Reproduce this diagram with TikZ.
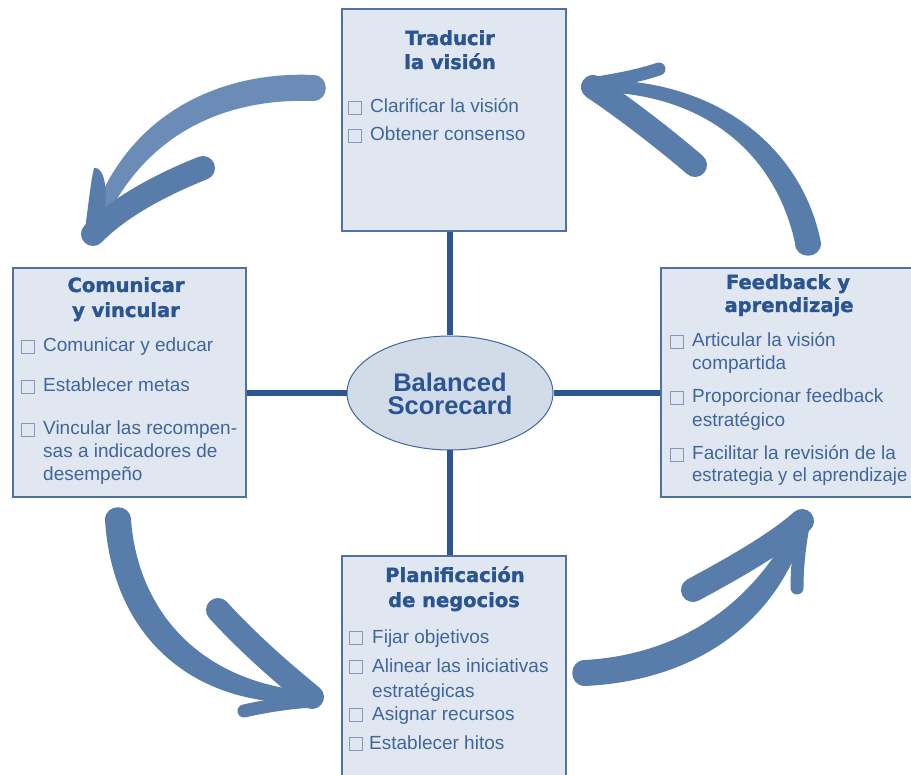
\documentclass[tikz,border=0pt]{standalone}
\usepackage{fontspec}
\setmainfont{Liberation Sans}
\newfontfamily\headfont[BoldFeatures={FakeBold=1.6}]{DejaVu Sans}
\newfontfamily\ovalfont{Liberation Sans}
\usetikzlibrary{shapes.geometric}

\definecolor{boxfill}{HTML}{E1E7F0}
\definecolor{boxline}{HTML}{4F72A2}
\definecolor{linkcol}{HTML}{2C5592}
\definecolor{ovalfill}{HTML}{D2DCE9}
\definecolor{ovalline}{HTML}{3F679C}
\definecolor{headcol}{HTML}{2A5592}
\definecolor{itemcol}{HTML}{3F669C}
\definecolor{chkcol}{HTML}{8199BB}
\definecolor{arrowcol}{HTML}{597DAB}
\definecolor{arrowlight}{HTML}{6B8CB6}

\tikzset{
  panel/.style={draw=boxline, fill=boxfill, line width=1.3pt, inner sep=0},
  link/.style={draw=linkcol, line width=6pt},
  oval/.style={ellipse, draw=ovalline, fill=ovalfill, line width=1pt, inner sep=0},
  heading/.style={font=\headfont\bfseries\fontsize{19.5}{22}\selectfont, text=headcol, anchor=base, inner sep=0},
  item/.style={font=\fontsize{19}{21}\selectfont, text=itemcol, anchor=base west, inner sep=0},
  chk/.style={draw=chkcol, line width=0.9pt, minimum size=13pt, inner sep=0, fill=none},
  ovaltext/.style={font=\ovalfont\bfseries\fontsize{25.5}{27}\selectfont, text=headcol, anchor=base, inner sep=0},
  body/.style={fill=arrowcol},
  lightbody/.style={fill=arrowlight},
  barb/.style={draw=arrowcol, line cap=round, line join=round},
}

\begin{document}
\begin{tikzpicture}[x=1pt, y=-1pt]
\useasboundingbox (0,0) rectangle (911,775);
\fill[white] (0,0) rectangle (911,775);
\clip (0,0) rectangle (911,775);

% the four panels and the central oval
\node[panel, minimum width=224pt, minimum height=222pt] (tv) at (454,120) {};
\node[panel, minimum width=233pt, minimum height=229pt] (cv) at (129.5,382.5) {};
\node[panel, minimum width=254pt, minimum height=229pt] (fa) at (788,382.5) {};
\node[panel, minimum width=224pt, minimum height=234pt] (pn) at (454,673) {};
\node[oval, minimum width=206pt, minimum height=114pt] (bsc) at (450,393) {};

% spokes from the oval to the panels
\draw[link] (bsc.north) -- (bsc.north |- tv.south);
\draw[link] (bsc.south) -- (bsc.south |- pn.north);
\draw[link] (bsc.west) -- (bsc.west -| cv.east);
\draw[link] (bsc.east) -- (bsc.east -| fa.west);

% oval label
\node[ovaltext] (bsc1) at (450,392) {Balanced};
\node[ovaltext] (bsc2) at (450,415) {Scorecard};

% Traducir la vision
\node[heading] (tvh1) at (450,45) {Traducir};
\node[heading] (tvh2) at (450,69) {la visión};
\node[chk] (tvc1) at (355,107.5) {};
\node[item] (tvi1) at (370,113) {Clarificar la visión};
\node[chk] (tvc2) at (355,135.5) {};
\node[item] (tvi2) at (370,141) {Obtener consenso};

% Comunicar y vincular
\node[heading] (cvh1) at (126,292) {Comunicar};
\node[heading] (cvh2) at (126,317) {y vincular};
\node[chk] (cvc1) at (28,346.5) {};
\node[item] (cvi1) at (43,352) {Comunicar y educar};
\node[chk] (cvc2) at (28,386.5) {};
\node[item] (cvi2) at (43,392) {Establecer metas};
\node[chk] (cvc3) at (28,429.5) {};
\node[item] (cvi3) at (43,435) {Vincular las recompen-};
\node[item] (cvi4) at (43,458) {sas a indicadores de};
\node[item] (cvi5) at (43,481) {desempeño};

% Feedback y aprendizaje
\node[heading] (fah1) at (788,289) {Feedback y};
\node[heading] (fah2) at (789,312) {aprendizaje};
\node[chk] (fac1) at (677,341.5) {};
\node[item] (fai1) at (692,347) {Articular la visión};
\node[item] (fai2) at (692,370) {compartida};
\node[chk] (fac2) at (677,397.5) {};
\node[item] (fai3) at (692,403) {Proporcionar feedback};
\node[item] (fai4) at (692,427) {estratégico};
\node[chk] (fac3) at (677,454.5) {};
\node[item] (fai5) at (692,460) {Facilitar la revisión de la};
\node[item, xscale=0.97] (fai6) at (692,482) {estrategia y el aprendizaje};

% Planificacion de negocios
\node[heading] (pnh1) at (455,582) {Planificación};
\node[heading] (pnh2) at (454,607) {de negocios};
\node[chk] (pnc1) at (356,637.5) {};
\node[item] (pni1) at (372,643) {Fijar objetivos};
\node[chk] (pnc2) at (356,666.5) {};
\node[item] (pni2) at (372,672) {Alinear las iniciativas};
\node[item] (pni3) at (372,697) {estratégicas};
\node[chk] (pnc3) at (356,714.5) {};
\node[item] (pni4) at (372,720) {Asignar recursos};
\node[chk] (pnc4) at (355.5,743.5) {};
\node[item] (pni5) at (369,749) {Establecer hitos};

% cycle arrows: tapered brush body plus two barbs
% top left
\fill[lightbody] (313,75) .. controls (225,71) and (125,110) .. (89,226)
  -- (101,230) .. controls (145,128) and (232,98) .. (313,101)
  .. controls (330,101) and (330,75) .. (313,75) -- cycle;
\fill[body] (94,168) .. controls (104,166) and (110,190) .. (102,225)
  -- (84,236) .. controls (88,210) and (90,185) .. (94,168) -- cycle;
\draw[barb, line width=24pt] (203,168) .. controls (160,185) and (118,208) .. (93,234);

% top right
\fill[body] (821,243) .. controls (803,150) and (720,80) .. (600,80)
  -- (600,92) .. controls (712,95) and (777,160) .. (795,243)
  .. controls (795,260) and (821,260) .. (821,243) -- cycle;
\draw[barb, line width=13pt] (659,69) .. controls (632,78) and (607,81) .. (592,84);
\draw[barb, line width=24pt] (695,165) .. controls (660,135) and (620,105) .. (593,87);

% bottom left
\fill[body] (105,520) .. controls (112,630) and (185,705) .. (305,703)
  -- (305,691) .. controls (198,680) and (138,610) .. (131,520)
  .. controls (131,503) and (105,503) .. (105,520) -- cycle;
\draw[barb, line width=13pt] (244,711) .. controls (270,705) and (295,702) .. (313,701);
\draw[barb, line width=24pt] (218,610) .. controls (250,645) and (285,675) .. (312,697);

% bottom right
\fill[body] (585,686) .. controls (690,681) and (775,628) .. (806,527)
  -- (794,523) .. controls (748,612) and (672,655) .. (585,660)
  .. controls (568,660) and (568,686) .. (585,686) -- cycle;
\draw[barb, line width=13pt] (797,588) .. controls (797,565) and (800,540) .. (804,522);
\draw[barb, line width=24pt] (693,590) .. controls (730,570) and (775,545) .. (802,521);
\end{tikzpicture}
\end{document}
